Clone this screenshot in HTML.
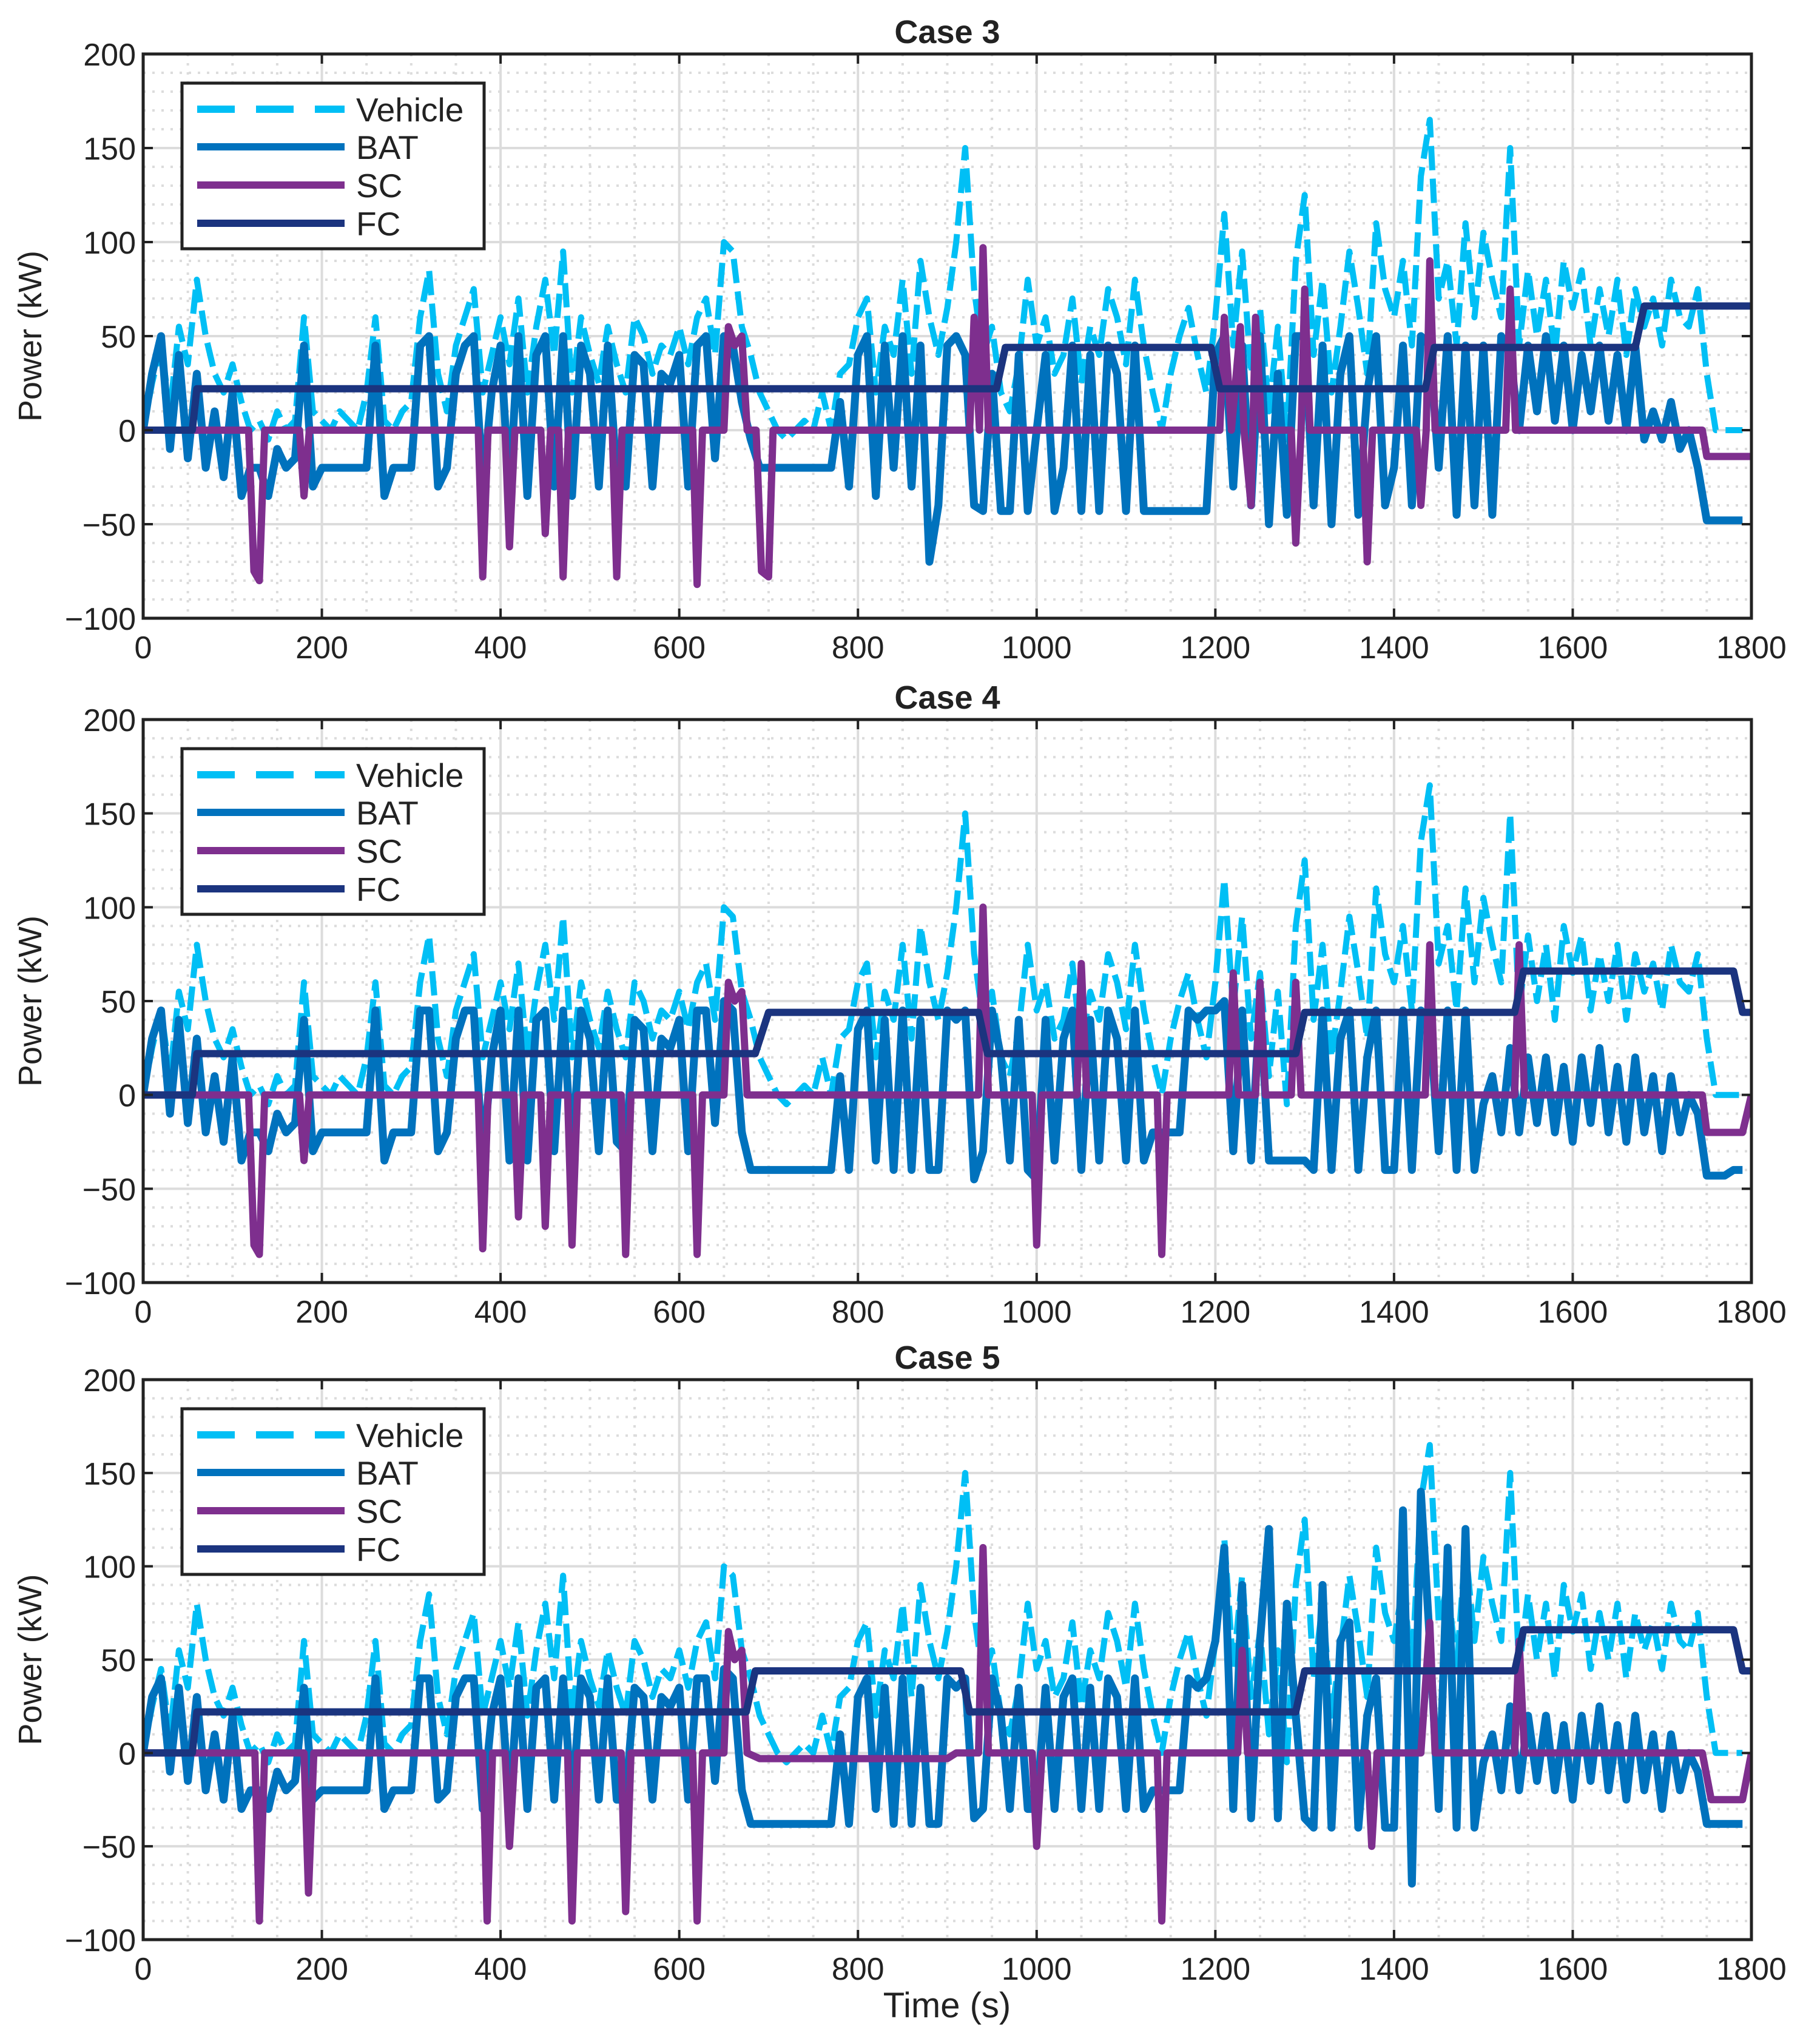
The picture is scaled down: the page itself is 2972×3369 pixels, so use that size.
<!DOCTYPE html>
<html><head><meta charset="utf-8">
<style>
html,body{margin:0;padding:0;background:#fff;}
svg{display:block;font-family:"Liberation Sans",Arial,sans-serif;}
</style></head>
<body>
<svg id="chart" width="2972" height="3369" viewBox="0 0 2972 3369" xmlns="http://www.w3.org/2000/svg"></svg>
<script>
// ---------- data ----------
const xTicks=[0,200,400,600,800,1000,1200,1400,1600,1800];
const yTicks=[-100,-50,0,50,100,150,200];
const caseTitles=["Case 3","Case 4","Case 5"];
const seriesNames=["Vehicle","BAT","SC","FC"];
// vehicle power, 10 s steps from t=0
const vehicle=[0,25,45,10,55,35,80,50,30,20,
35,15,0,5,-5,10,0,5,60,10,
5,0,10,5,0,20,60,5,0,10,
15,60,85,30,10,45,60,75,20,40,
60,35,70,20,55,80,40,95,20,60,
40,25,55,35,20,60,50,30,45,40,
55,35,60,70,40,100,95,55,40,20,
10,0,-5,0,5,0,20,0,30,35,
60,70,20,55,40,80,30,90,60,40,
65,100,150,75,40,55,20,10,35,80,
45,60,30,40,70,25,55,40,75,60,
35,80,45,20,0,30,50,65,40,20,
60,115,45,95,30,65,10,55,-5,90,
125,40,80,20,55,95,65,30,110,75,
60,90,45,135,165,70,90,45,110,60,
105,80,60,150,45,85,50,80,40,90,
65,85,45,75,50,80,40,75,55,70,
45,80,60,55,75,30,0,0,0,0];
// battery power per case, 10 s steps
const bat3=[0,30,50,-10,40,-15,30,-20,10,-25,
20,-35,-20,-20,-35,-10,-20,-15,45,-30,
-20,-20,-20,-20,-20,-20,45,-35,-20,-20,
-20,45,50,-30,-20,30,45,50,-30,20,
45,-35,50,-35,40,50,-30,50,-35,45,
30,-30,45,-25,-30,40,35,-30,30,25,
40,-30,45,50,-15,50,45,15,-5,-20,
-20,-20,-20,-20,-20,-20,-20,-20,15,-30,
40,50,-35,45,-20,50,-30,45,-70,-40,
45,50,40,-40,-43,30,-43,-43,40,-43,
0,40,-43,-20,45,-43,40,-43,45,30,
-43,45,-43,-43,-43,-43,-43,-43,-43,-43,
40,50,-30,45,-40,50,-50,30,-45,50,
50,-40,45,-50,30,50,-45,20,50,-40,
-20,45,-40,50,45,-20,50,-45,45,-40,
45,-45,50,40,0,45,10,50,5,45,
0,40,10,45,5,40,0,45,-5,10,
-5,15,-10,0,-20,-48,-48,-48,-48,-48];
const bat4=[0,30,45,-10,40,-15,30,-20,10,-25,
20,-35,-20,-20,-30,-10,-20,-15,40,-30,
-20,-20,-20,-20,-20,-20,45,-35,-20,-20,
-20,45,45,-30,-20,30,45,45,-35,20,
45,-35,45,-35,40,45,-30,45,-35,45,
30,-30,45,-25,-30,40,35,-30,30,25,
40,-30,45,45,-15,50,45,-20,-40,-40,
-40,-40,-40,-40,-40,-40,-40,-40,10,-40,
35,45,-35,40,-40,45,-40,40,-40,-40,
45,40,45,-45,-30,45,20,-35,40,-40,
-45,40,-35,30,45,-40,40,-35,45,30,
-35,45,-35,-20,-20,-20,-20,45,40,45,
45,50,-30,45,-35,50,-35,-35,-35,-35,
-35,-40,45,-40,30,45,-40,20,45,-40,
-40,45,-40,45,40,-30,45,-40,45,-40,
-5,10,-20,25,-20,20,-15,20,-20,15,
-25,20,-15,25,-20,15,-25,20,-20,10,
-30,10,-20,0,-10,-43,-43,-43,-40,-40];
const bat5=[0,30,40,-10,35,-15,30,-20,10,-25,
20,-30,-20,-20,-30,-10,-20,-15,35,-25,
-20,-20,-20,-20,-20,-20,40,-30,-20,-20,
-20,40,40,-25,-20,30,40,40,-30,20,
40,-30,40,-30,35,40,-25,40,-30,40,
30,-25,40,-25,-25,35,30,-25,30,25,
35,-25,40,40,-15,45,40,-20,-38,-38,
-38,-38,-38,-38,-38,-38,-38,-38,10,-38,
30,40,-30,35,-38,40,-38,35,-38,-38,
40,35,40,-35,-30,40,20,-30,35,-30,
-30,35,-30,30,40,-30,35,-30,40,30,
-30,40,-30,-20,-20,-20,-20,40,35,40,
60,110,-30,90,-35,60,120,-35,80,20,
-35,-40,90,-40,60,70,-40,20,40,-40,
-40,130,-70,140,60,-30,110,-40,120,-40,
-5,10,-20,25,-20,20,-15,20,-20,15,
-25,20,-15,25,-20,15,-25,20,-20,10,
-30,10,-20,0,-10,-38,-38,-38,-38,-38];
// supercapacitor power as (time, value) breakpoints
const sc3T=[0,118,124,130,136,175,180,186,375,380,386,405,410,416,445,450,456,465,470,476,525,530,536,615,620,626,650,655,662,670,676,686,692,700,705,925,930,936,940,946,1205,1210,1218,1228,1232,1240,1245,1252,1285,1290,1296,1300,1306,1365,1370,1376,1425,1430,1436,1440,1446,1525,1530,1536,1745,1750,1800];
const sc3V=[0,0,-75,-80,0,0,-35,0,0,-78,0,0,-62,0,0,-55,0,0,-78,0,0,-78,0,0,-82,0,0,55,45,50,0,0,-75,-78,0,0,60,0,97,0,0,60,0,55,0,-40,60,0,0,-60,0,75,0,0,-70,0,0,-40,0,90,0,0,75,0,0,-14,-14];
const sc4T=[0,118,124,130,136,175,180,186,375,380,386,415,420,426,445,450,456,475,480,486,535,540,546,615,620,626,650,655,662,670,676,935,940,946,995,1000,1006,1045,1050,1056,1135,1140,1146,1215,1220,1226,1245,1250,1256,1285,1290,1296,1435,1440,1446,1535,1540,1546,1745,1750,1790,1800];
const sc4V=[0,0,-80,-85,0,0,-35,0,0,-82,0,0,-65,0,0,-70,0,0,-80,0,0,-85,0,0,-85,0,0,60,50,55,0,0,100,0,0,-80,0,0,70,0,0,-85,0,0,65,0,0,60,0,0,60,0,0,80,0,0,80,0,0,-20,-20,0];
const sc5T=[0,125,130,136,180,185,191,380,385,391,405,410,416,475,480,486,535,540,546,615,620,626,650,655,662,670,676,690,900,910,935,940,946,995,1000,1006,1135,1140,1146,1225,1230,1236,1370,1375,1381,1430,1440,1446,1535,1540,1546,1745,1755,1790,1800];
const sc5V=[0,0,-90,0,0,-75,0,0,-90,0,0,-50,0,0,-90,0,0,-85,0,0,-90,0,0,65,50,55,0,-3,-3,0,0,110,0,0,-50,0,0,-90,0,0,55,0,0,-50,0,0,70,0,0,60,0,0,-25,-25,0];
// fuel cell power as (time, value) breakpoints
const fc3T=[0,55,60,955,965,1195,1205,1435,1445,1670,1680,1800];
const fc3V=[0,0,22,22,44,44,22,22,44,44,66,66];
const fc4T=[0,55,60,685,700,935,945,1290,1300,1535,1545,1780,1790,1800];
const fc4V=[0,0,22,22,44,44,22,22,44,44,66,66,44,44];
const fc5T=[0,55,60,675,685,915,925,1290,1300,1535,1545,1780,1790,1800];
const fc5V=[0,0,22,22,44,44,22,22,44,44,66,66,44,44];
const batCases=[bat3,bat4,bat5];
const scTimes=[sc3T,sc4T,sc5T], scVals=[sc3V,sc4V,sc5V];
const fcTimes=[fc3T,fc4T,fc5T], fcVals=[fc3V,fc4V,fc5V];

// ---------- drawing ----------
const NS="http://www.w3.org/2000/svg";
const svg=document.getElementById('chart');
function mk(tag,attrs,parent){const e=document.createElementNS(NS,tag);for(const k in attrs)e.setAttribute(k,attrs[k]);(parent||svg).appendChild(e);return e;}
const X0=236,X1=2887;
const tops=[89,1186,2274], heights=[930,928,923];
const COL={veh:"#00bff5",bat:"#0072bd",sc:"#7e2f8e",fc:"#1b347f"};

for(let p=0;p<3;p++){
  const top=tops[p],H=heights[p],bot=top+H;
  const sx=t=>X0+(t/1800)*(X1-X0);
  const sy=v=>bot-((v+100)/300)*H;
  const g=mk('g',{});
  
  
  let d='';
  for(let t=50;t<1800;t+=50){if(t%200)d+=`M${sx(t)},${top}V${bot}`;}
  for(let v=-90;v<200;v+=10){if(v%50)d+=`M${X0},${sy(v)}H${X1}`;}
  const mg=mk('path',{d:d,stroke:"#dcdcdc","stroke-width":4,"stroke-dasharray":"4 11",fill:"none"},g);
  
  
  d='';
  for(const t of xTicks){if(t>0&&t<1800)d+=`M${sx(t)},${top}V${bot}`;}
  for(const v of yTicks){if(v>-100&&v<200)d+=`M${X0},${sy(v)}H${X1}`;}
  const Mg=mk('path',{d:d,stroke:"#dcdcdc","stroke-width":4,fill:"none"},g);
  
  
  const cp=mk('clipPath',{id:'clip'+p},g);
  mk('rect',{x:X0,y:top,width:X1-X0,height:H},cp);
  const dg=mk('g',{'clip-path':`url(#clip${p})`},g);
  let pts=vehicle.map((v,i)=>`${sx(i*10).toFixed(1)},${sy(v).toFixed(1)}`).join(' ');
  const vl=mk('polyline',{points:pts,fill:"none",stroke:COL.veh,"stroke-width":10,"stroke-dasharray":"40 14","stroke-linejoin":"round"},dg);
  
  
  pts=batCases[p].map((v,i)=>`${sx(i*10).toFixed(1)},${sy(v).toFixed(1)}`).join(' ');
  const bl=mk('polyline',{points:pts,fill:"none",stroke:COL.bat,"stroke-width":13,"stroke-linejoin":"round"},dg);
  
  
  pts=scTimes[p].map((t,i)=>`${sx(t).toFixed(1)},${sy(scVals[p][i]).toFixed(1)}`).join(' ');
  const sl=mk('polyline',{points:pts,fill:"none",stroke:COL.sc,"stroke-width":12,"stroke-linejoin":"round"},dg);
  
  
  pts=fcTimes[p].map((t,i)=>`${sx(t).toFixed(1)},${sy(fcVals[p][i]).toFixed(1)}`).join(' ');
  const fl=mk('polyline',{points:pts,fill:"none",stroke:COL.fc,"stroke-width":12,"stroke-linejoin":"round"},dg);
  
  
  d='';
  for(const t of xTicks){d+=`M${sx(t)},${bot}v-16M${sx(t)},${top}v16`;}
  for(const v of yTicks){d+=`M${X0},${sy(v)}h16M${X1},${sy(v)}h-16`;}
  mk('path',{d:d,stroke:"#222","stroke-width":4,fill:"none"},g);
  const fr=mk('rect',{x:X0,y:top,width:X1-X0,height:H,fill:"none",stroke:"#222","stroke-width":5},g);
  
  
  for(const t of xTicks){
    const tx=mk('text',{x:sx(t),y:bot+66,"font-size":52,"text-anchor":"middle",fill:"#222"},g);
    tx.textContent=t;
    
    
  }
  for(const v of yTicks){
    const ty=mk('text',{x:X0-12,y:sy(v)+19,"font-size":52,"text-anchor":"end",fill:"#222"},g);
    ty.textContent=v<0?'\u2212'+(-v):v;
    
    
  }
  const yl=mk('text',{x:0,y:0,"font-size":54,"text-anchor":"middle",fill:"#222",transform:`translate(68,${top+H/2}) rotate(-90)`},g);
  yl.textContent='Power (kW)';
  
  
  const tt=mk('text',{x:(X0+X1)/2,y:top-18,"font-size":54,"font-weight":"bold","text-anchor":"middle",fill:"#222"},g);
  tt.textContent=caseTitles[p];
  
  
  const lg=mk('g',{},g);
  
  
  mk('rect',{x:300,y:top+48,width:498,height:273,fill:"#fff",stroke:"#222","stroke-width":5},lg);
  const offs=[91,153,216,279];
  const cols=[COL.veh,COL.bat,COL.sc,COL.fc];
  for(let i=0;i<4;i++){
    const y=top+offs[i];
    const ln=mk('line',{x1:325,x2:568,y1:y,y2:y,stroke:cols[i],"stroke-width":12},lg);
    if(i===0)ln.setAttribute('stroke-dasharray','62 35');
    
    
    const lt=mk('text',{x:587,y:y+20,"font-size":55,fill:"#222"},lg);
    lt.textContent=seriesNames[i];
    
    
  }
}
const xl=mk('text',{x:1561,y:3325,"font-size":58,"text-anchor":"middle",fill:"#222"});
xl.textContent='Time (s)';


</script>
</body></html>
